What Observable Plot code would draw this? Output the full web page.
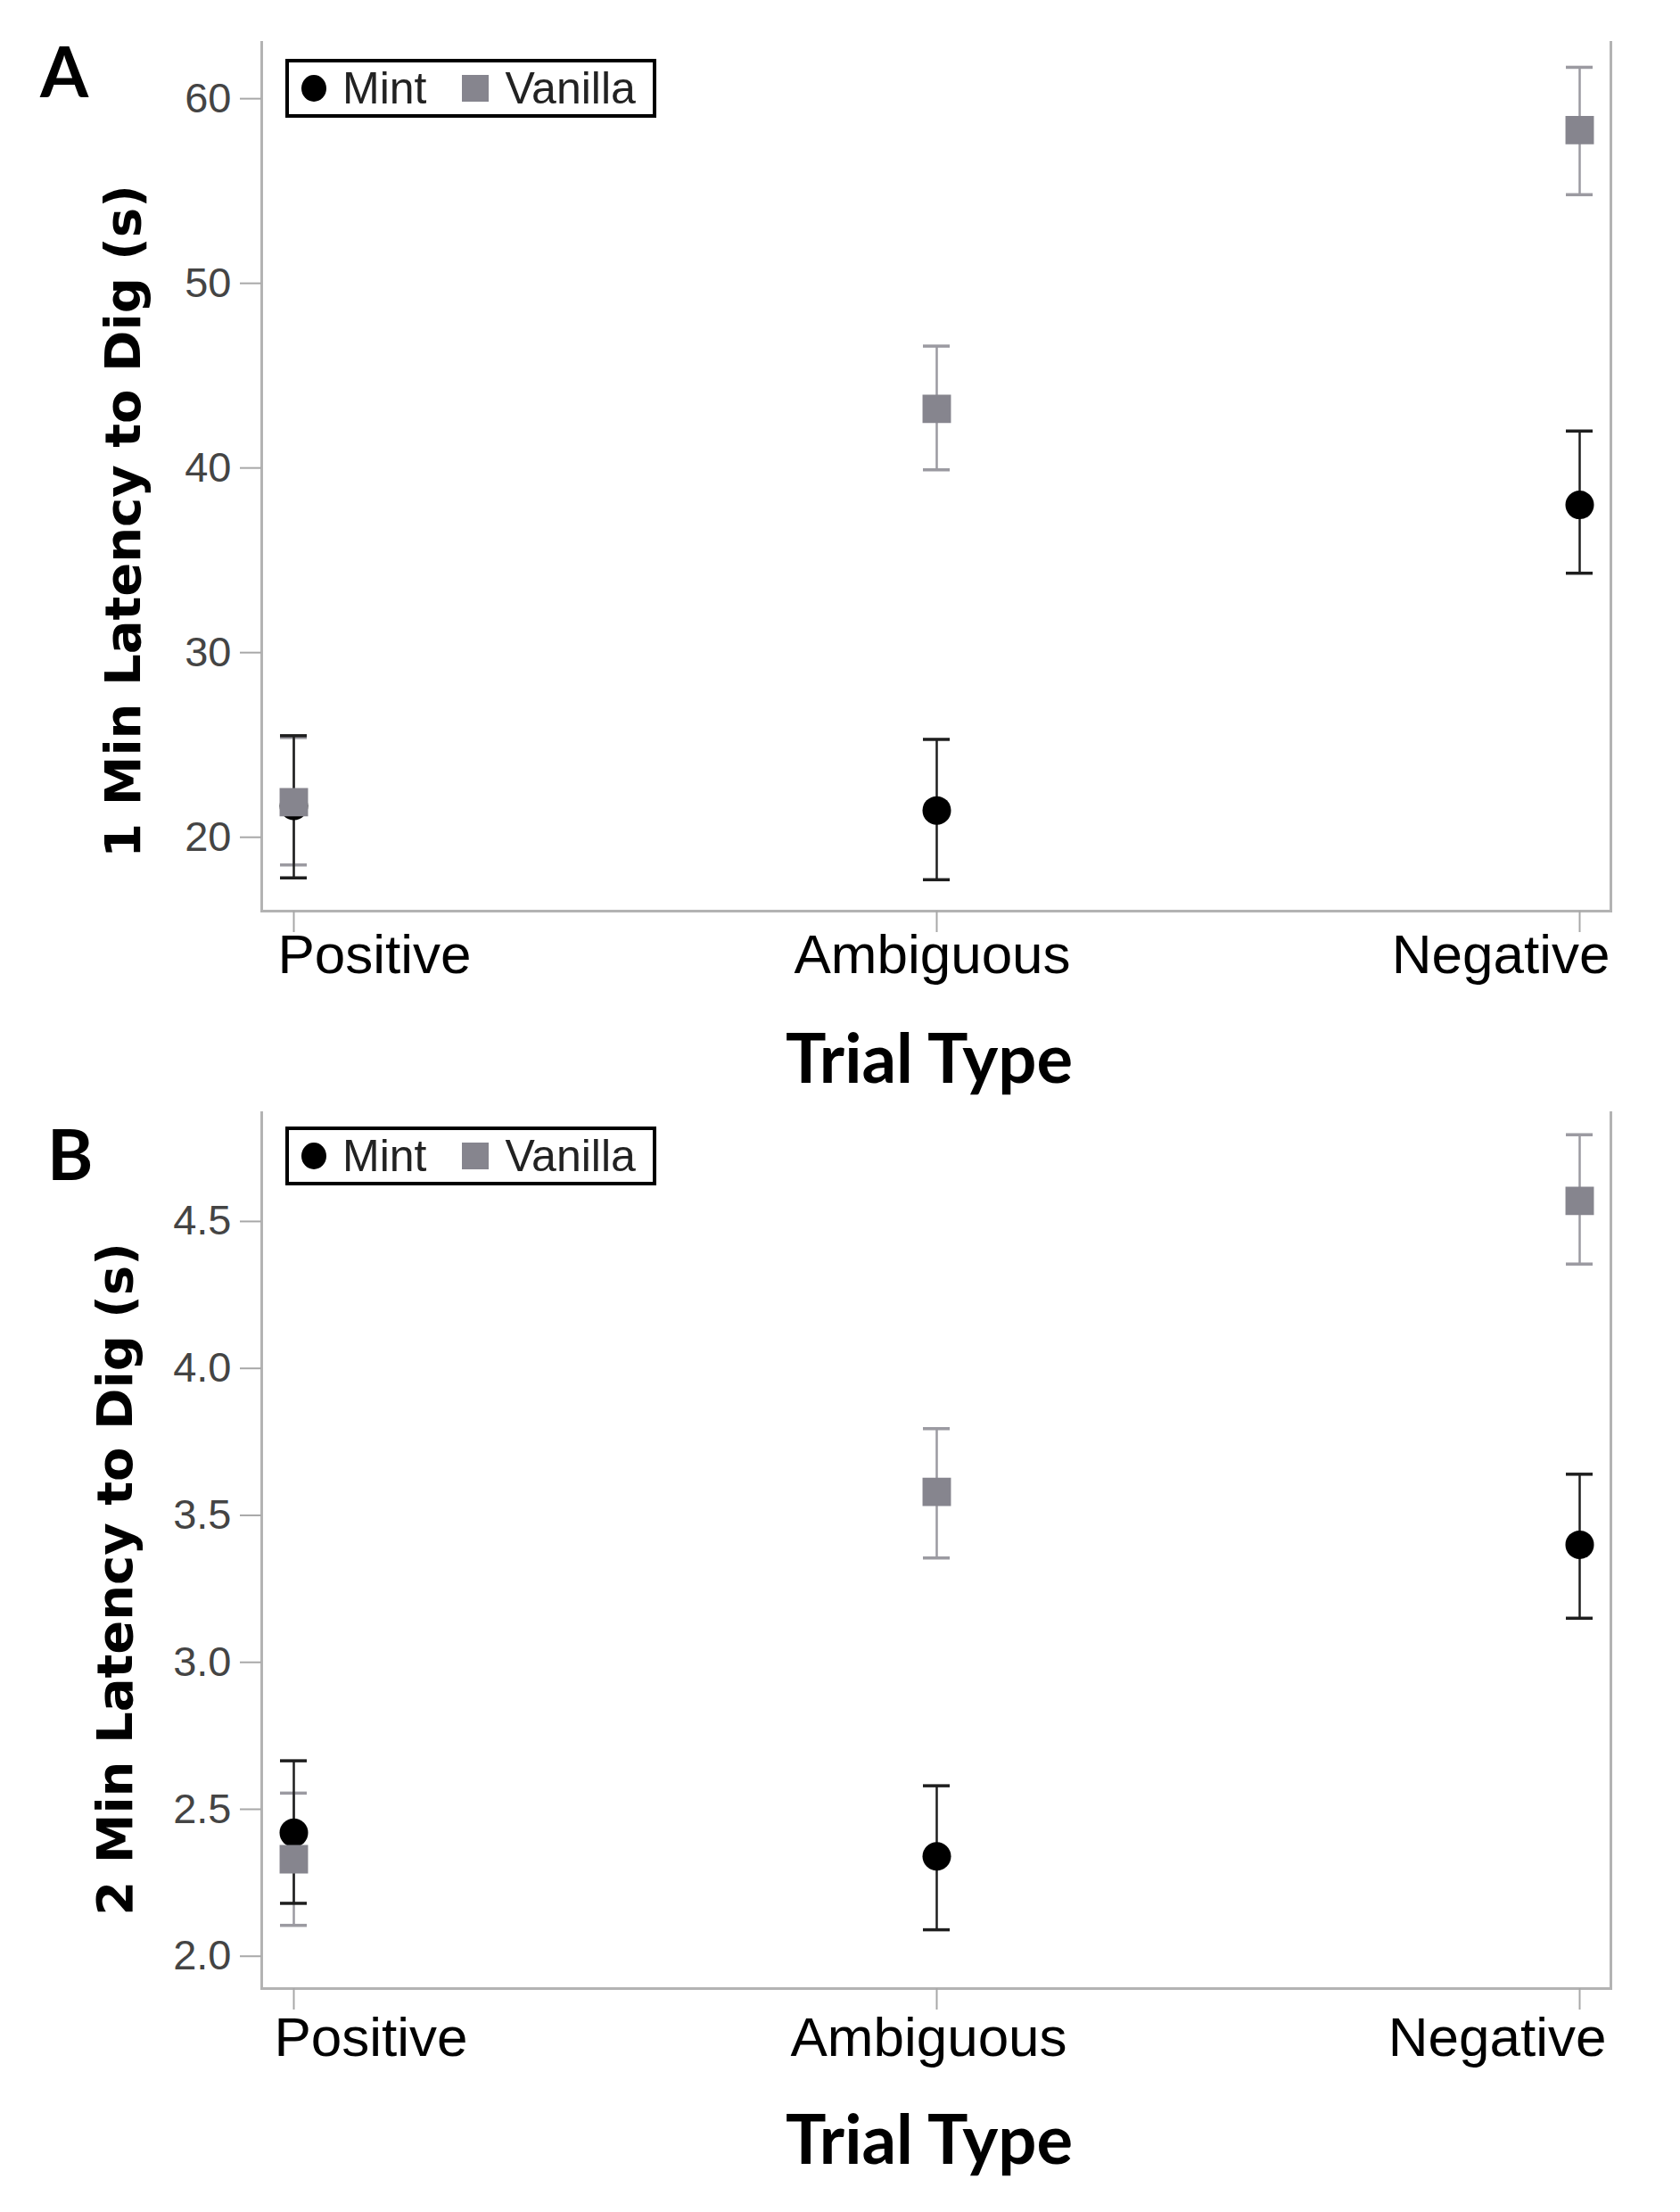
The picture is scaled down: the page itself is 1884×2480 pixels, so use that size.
<!DOCTYPE html>
<html><head><meta charset="utf-8">
<script src="https://cdn.jsdelivr.net/npm/d3@7"></script>
<script src="https://cdn.jsdelivr.net/npm/@observablehq/plot@0.6"></script>
<style>
body{margin:0;background:#fff;width:1884px;}
.panel{position:relative;width:1884px;height:1240px;}
.letter{position:absolute;font-family:Lato,sans-serif;font-weight:700;font-size:78px;line-height:1;color:#000;}
.legend{position:absolute;left:320px;width:416px;height:66px;border:4px solid #000;box-sizing:border-box;display:flex;align-items:center;font-family:"Liberation Sans",Arial,sans-serif;font-size:50px;color:#222;background:#fff;}
.legend .c{display:inline-block;width:28px;height:30px;border-radius:50%;background:#000;margin-left:14px;margin-right:18px;}
.legend .s{display:inline-block;width:30px;height:30px;background:#86858e;margin-left:40px;margin-right:18px;}
</style></head><body>
<div id="A" class="panel"></div>
<div id="B" class="panel"></div>
<script>
// ---- data ----
const trialTypes = ["Positive", "Ambiguous", "Negative"];
const flavours = ["Mint", "Vanilla"];

// Panel A: 1 min latency (s)
const lat1MintMean = [21.7, 21.45, 38.0];
const lat1MintLow = [17.8, 17.7, 34.3];
const lat1MintHigh = [25.5, 25.3, 42.0];
const lat1VanillaMean = [21.9, 43.2, 58.3];
const lat1VanillaLow = [18.5, 39.9, 54.8];
const lat1VanillaHigh = [25.4, 46.6, 61.7];
const ticksA = [20, 30, 40, 50, 60];

// Panel B: 2 min latency (s)
const lat2MintMean = [2.42, 2.34, 3.40];
const lat2MintLow = [2.18, 2.09, 3.15];
const lat2MintHigh = [2.665, 2.58, 3.64];
const lat2VanillaMean = [2.33, 3.58, 4.57];
const lat2VanillaLow = [2.105, 3.355, 4.355];
const lat2VanillaHigh = [2.555, 3.795, 4.795];
const ticksB = [2.0, 2.5, 3.0, 3.5, 4.0, 4.5];

const xTitle = "Trial Type";
const yTitleA = "1 Min Latency to Dig (s)";
const yTitleB = "2 Min Latency to Dig (s)";

function rowsOf(mean, low, high) {
  return trialTypes.map((t, i) => ({trial: t, mean: mean[i], low: low[i], high: high[i]}));
}

function panel(o) {
  const mint = rowsOf(o.mintMean, o.mintLow, o.mintHigh);
  const van = rowsOf(o.vanMean, o.vanLow, o.vanHigh);
  const frameStroke = "#b3b3b3";
  const bars = (rows, color) => [
    Plot.ruleX(rows, {x: "trial", y1: "low", y2: "high", stroke: color, strokeWidth: 2.5}),
    Plot.ruleY(rows, {x1: "trial", x2: "trial", y: "low", insetLeft: -15, insetRight: -15, stroke: color, strokeWidth: 3.5}),
    Plot.ruleY(rows, {x1: "trial", x2: "trial", y: "high", insetLeft: -15, insetRight: -15, stroke: color, strokeWidth: 3.5})
  ];
  const lbl = (name, anchor, dx) => Plot.text(trialTypes.filter(t => t === name), {
    x: d => d, text: d => d, frameAnchor: "bottom", dy: o.labelDy, dx,
    textAnchor: anchor, fontSize: 62, fill: "#000", fontFamily: "Liberation Sans, Arial, sans-serif"
  });
  return Plot.plot({
    width: 1884, height: 1240,
    marginLeft: 293, marginRight: 78, marginTop: o.mt, marginBottom: o.mb,
    style: {background: "white", fontFamily: "Liberation Sans, Arial, sans-serif"},
    x: {type: "point", domain: trialTypes, padding: 0, inset: 35},
    y: {domain: o.domain},
    marks: [
      Plot.frame({anchor: "left", stroke: frameStroke, strokeWidth: 3}),
      Plot.frame({anchor: "right", stroke: frameStroke, strokeWidth: 3}),
      Plot.frame({anchor: "bottom", stroke: frameStroke, strokeWidth: 3}),
      Plot.axisY({ticks: o.ticks, tickFormat: o.fmt, tickSize: 24, tickPadding: 10, fontSize: 47, fill: "#444", stroke: "#a8a8a8", strokeWidth: 2, label: null}),
      Plot.axisX({tickSize: 24, tickFormat: () => "", stroke: "#a8a8a8", strokeWidth: 2, label: null}),
      ...bars(van, "#9b9aa1"),
      ...bars(mint, "#1e1e1e"),
      Plot.dot(mint, {x: "trial", y: "mean", r: 16, fill: "#000", symbol: "circle"}),
      Plot.dot(van, {x: "trial", y: "mean", r: 18, fill: "#86858e", symbol: "square"}),
      lbl("Positive", "start", -18 + o.lx),
      lbl("Ambiguous", "middle", -5 + o.lx),
      lbl("Negative", "end", 34 + o.lx),
      Plot.text([xTitle], {text: d => d, frameAnchor: "bottom", dy: o.titleDy, dx: -8, fontSize: 76, fontWeight: 700, fontFamily: "Lato, sans-serif", fill: "#000"}),
      Plot.text([o.yTitle], {text: d => d, frameAnchor: "left", textAnchor: "middle", dx: o.ytDx, dy: o.ytDy, rotate: -90, fontSize: 56, fontWeight: 700, fontFamily: "DejaVu Sans, sans-serif", fill: "#000"})
    ]
  });
}

const A = panel({
  mintMean: lat1MintMean, mintLow: lat1MintLow, mintHigh: lat1MintHigh,
  vanMean: lat1VanillaMean, vanLow: lat1VanillaLow, vanHigh: lat1VanillaHigh,
  domain: [16, 63.05], ticks: ticksA, fmt: d3.format("d"),
  mt: 47, mb: 219, labelDy: 69, titleDy: 192, lx: 0,
  yTitle: yTitleA, ytDx: -154, ytDy: 50
});
const B = panel({
  mintMean: lat2MintMean, mintLow: lat2MintLow, mintHigh: lat2MintHigh,
  vanMean: lat2VanillaMean, vanLow: lat2VanillaLow, vanHigh: lat2VanillaHigh,
  domain: [1.89, 4.87], ticks: ticksB, fmt: d3.format(".1f"),
  mt: 7, mb: 251, labelDy: 75, titleDy: 196, lx: -4,
  yTitle: yTitleB, ytDx: -163, ytDy: 32
});

function decorate(el, svg, letter, letterTop, letterLeft, legendTop) {
  el.appendChild(svg);
  const L = document.createElement("div");
  L.className = "letter"; L.textContent = letter;
  L.style.top = letterTop + "px"; L.style.left = letterLeft + "px";
  el.appendChild(L);
  const g = document.createElement("div");
  g.className = "legend"; g.style.top = legendTop + "px";
  const c = document.createElement("span"); c.className = "c";
  const t1 = document.createElement("span"); t1.textContent = flavours[0];
  const s = document.createElement("span"); s.className = "s";
  const t2 = document.createElement("span"); t2.textContent = flavours[1];
  g.append(c, t1, s, t2);
  el.appendChild(g);
}
decorate(document.getElementById("A"), A, "A", 40, 45, 66);
decorate(document.getElementById("B"), B, "B", 14, 53, 23);
</script>
</body></html>
